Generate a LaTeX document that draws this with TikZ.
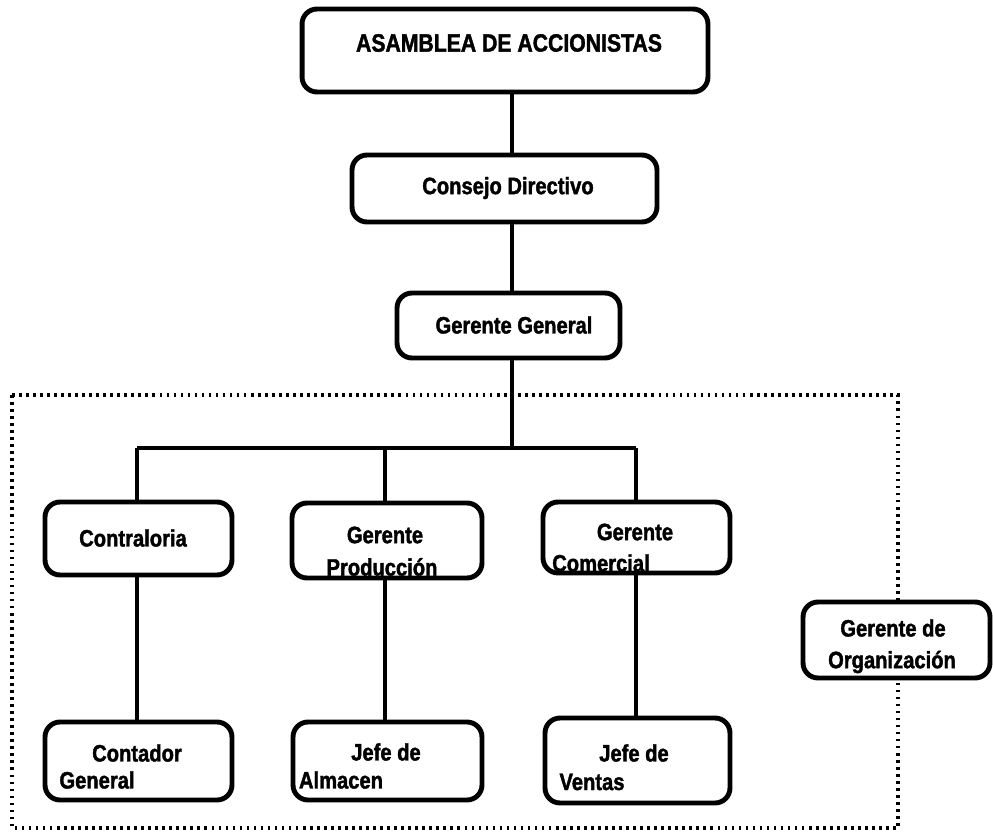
\documentclass[tikz,border=0pt]{standalone}
\usepackage{fontspec}
\newfontfamily\boxfont[FakeStretch=0.85,BoldFeatures={FakeBold=1.6}]{Liberation Sans}
\begin{document}
\begin{tikzpicture}[x=0.02cm,y=-0.02cm,
  orgbox/.style={draw,line width=2.8pt,rounded corners=0.3cm,fill=white,inner sep=0pt},
  link/.style={line width=2.2pt},
  lbl/.style={font=\boxfont\bfseries\fontsize{13.5}{15}\selectfont,inner sep=0pt},
  area/.style={line width=2.2pt,dash pattern=on 1.5pt off 2.5pt}]
\useasboundingbox (0,0) rectangle (993,834);

% dotted frame around the operating area
\draw[area] (12,395) rectangle (898,828);

% trunk and branch points
\coordinate (trunk) at (512,448);
\coordinate (bl) at (137,448);
\coordinate (bm) at (385,448);
\coordinate (br) at (636,448);

% boxes
\node[orgbox,minimum width=8.12cm,minimum height=1.66cm] (asam) at (505,50.5) {};
\node[orgbox,minimum width=6.1cm,minimum height=1.34cm] (cons) at (504.5,188.5) {};
\node[orgbox,minimum width=4.46cm,minimum height=1.3cm] (gg) at (508.5,325.5) {};
\node[orgbox,minimum width=3.74cm,minimum height=1.46cm] (contra) at (138.5,538.5) {};
\node[orgbox,minimum width=3.8cm,minimum height=1.5cm] (gprod) at (387,540.5) {};
\node[orgbox,minimum width=3.74cm,minimum height=1.42cm] (gcom) at (636.5,537.5) {};
\node[orgbox,minimum width=3.74cm,minimum height=1.52cm] (org) at (896.5,640) {};
\node[orgbox,minimum width=3.74cm,minimum height=1.56cm] (cgen) at (138.5,761) {};
\node[orgbox,minimum width=3.78cm,minimum height=1.56cm] (jalm) at (387.5,761) {};
\node[orgbox,minimum width=3.7cm,minimum height=1.7cm] (jven) at (637.5,760.5) {};

% connectors
\draw[link] (asam.south -| trunk) -- (cons.north -| trunk);
\draw[link] (cons.south -| trunk) -- (gg.north -| trunk);
\draw[link] (gg.south -| trunk) -- (trunk);
\draw[link] (bl) -- (br);
\draw[link] (bl) -- (contra.north -| bl);
\draw[link] (bm) -- (gprod.north -| bm);
\draw[link] (br) -- (gcom.north -| br);
\draw[link] (contra.south -| bl) -- (cgen.north -| bl);
\draw[link] (gprod.south -| bm) -- (jalm.north -| bm);
\draw[link] (gcom.south -| br) -- (jven.north -| br);

% labels
\node[lbl,font=\boxfont\bfseries\fontsize{14.2}{16}\selectfont] (tasam) at (509,43) {ASAMBLEA DE ACCIONISTAS};
\node[lbl] (tcons) at (508,188) {Consejo Directivo};
\node[lbl] (tgg) at (514,325) {Gerente General};
\node[lbl] (tcontra) at (133,538) {Contraloria};
\node[lbl] (tgprod1) at (385,535) {Gerente};
\node[lbl] (tgprod2) at (382,567) {Producción};
\node[lbl] (tgcom1) at (635,532) {Gerente};
\node[lbl] (tgcom2) at (601,563) {Comercial};
\node[lbl] (torg1) at (893,628) {Gerente de};
\node[lbl] (torg2) at (892,662) {Organización};
\node[lbl] (tcgen1) at (137,753) {Contador};
\node[lbl] (tcgen2) at (97,780) {General};
\node[lbl] (tjalm1) at (386,752) {Jefe de};
\node[lbl] (tjalm2) at (341,780) {Almacen};
\node[lbl] (tjven1) at (634,753) {Jefe de};
\node[lbl] (tjven2) at (592,782) {Ventas};
\end{tikzpicture}
\end{document}
